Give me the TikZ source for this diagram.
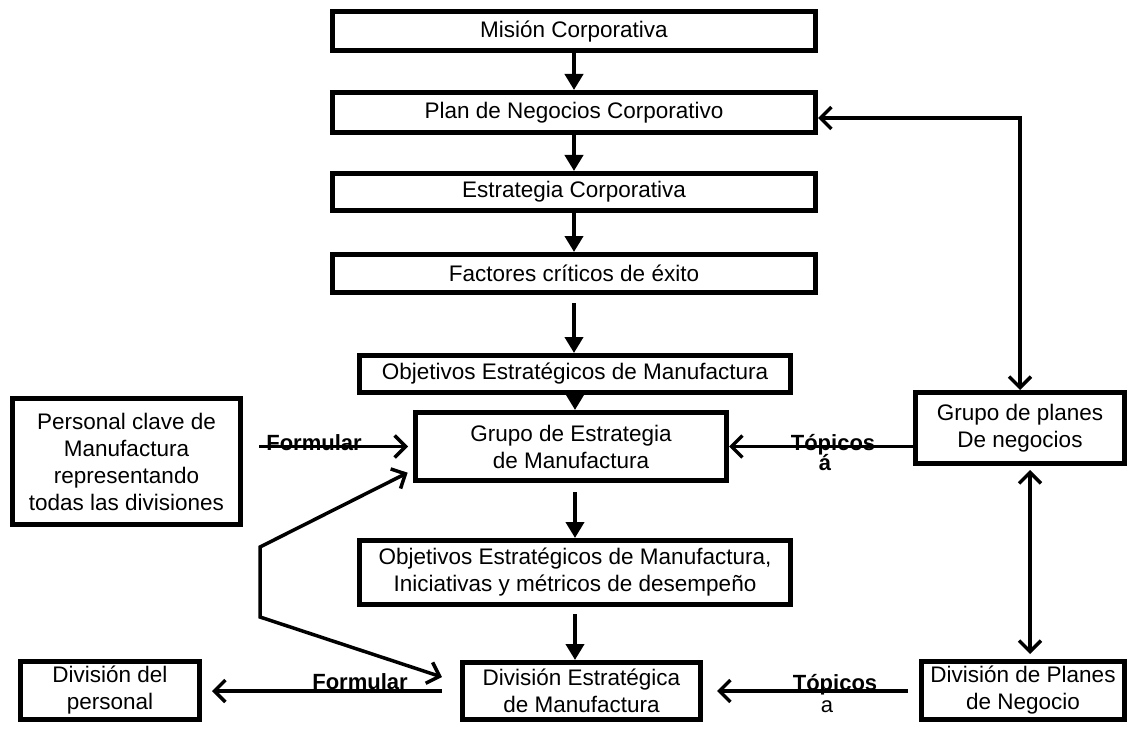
\documentclass[tikz,border=0pt]{standalone}
\usepackage{fontspec}
\setmainfont{Liberation Sans}
\usetikzlibrary{arrows.meta}
\begin{document}
\begin{tikzpicture}[x=1pt,y=-1pt,
  box/.style={draw, line width=5pt, inner sep=0pt, align=center,
    font=\fontsize{22.5}{27}\selectfont},
  lbl/.style={inner sep=0pt, anchor=base, font=\fontsize{22}{26.5}\selectfont\bfseries},
  lblplain/.style={inner sep=0pt, anchor=base, font=\fontsize{22}{26.5}\selectfont},
  down/.style={line width=4pt, -{Triangle[length=16pt,width=18pt]}},
  barb/.style={line width=3.5pt, line join=miter, -{Straight Barb[length=11pt,width=22pt]}},
  twobarb/.style={line width=3.5pt, line join=miter,
    {Straight Barb[length=11pt,width=22pt]}-{Straight Barb[length=11pt,width=22pt]}},
]
\useasboundingbox (0,0) rectangle (1138,733);

% central chain of boxes
\node[box, minimum width=483pt, minimum height=39pt] (mis)   at (574,31.5)  {Misión Corporativa};
\node[box, minimum width=483pt, minimum height=40pt] (plan)  at (574,112.5) {Plan de Negocios Corporativo};
\node[box, minimum width=483pt, minimum height=37pt] (estr)  at (574,192)   {Estrategia Corporativa};
\node[box, minimum width=483pt, minimum height=38pt] (fact)  at (574,273.5) {Factores críticos de éxito};
\node[box, minimum width=431pt, minimum height=37pt] (obj1)  at (575,374)   {Objetivos Estratégicos de Manufactura};
\node[box, minimum width=311pt, minimum height=68pt] (grupo) at (571,446.5) {Grupo de Estrategia\\de Manufactura};
\node[box, minimum width=431pt, minimum height=64pt] (obj2)  at (575,572.5) {Objetivos Estratégicos de Manufactura,\\Iniciativas y métricos de desempeño};
\node[box, minimum width=238pt, minimum height=57pt] (divest) at (581.5,691) {División Estratégica\\de Manufactura};

% side boxes
\node[box, minimum width=228pt, minimum height=126pt] (pers) at (126.5,461.5) {Personal clave de\\Manufactura\\representando\\todas las divisiones};
\node[box, minimum width=209pt, minimum height=71pt] (gpn)  at (1020,428)   {Grupo de planes\\De negocios};
\node[box, minimum width=179pt, minimum height=58pt] (divp) at (110,690.5)  {División del\\personal};
\node[box, minimum width=203pt, minimum height=58pt] (dpn)  at (1023,690.5) {División de Planes\\de Negocio};

% connector labels
\node[lbl] (f1)  at (314,450) {Formular};
\node[lbl] (t1)  at (833,450) {Tópicos};
\node[lbl] (t1a) at (825,470) {á};
\node[lbl] (f2)  at (360,689) {Formular};
\node[lbl] (t2)  at (835,690) {Tópicos};
\node[lblplain] (t2a) at (827,712) {a};

% vertical flow
\draw[down] (mis.south) -- (plan.north);
\draw[down] (plan.south) -- (estr.north);
\draw[down] (estr.south) -- (fact.north);
\draw[down, shorten <=8pt] (fact.south) -- (fact.south |- obj1.north);
\draw[down] (obj1.south) -- (obj1.south |- grupo.north);
\draw[down, shorten <=9pt] (obj2.north |- grupo.south) -- (obj2.north);
\draw[down, shorten <=7pt] (obj2.south) -- (obj2.south |- divest.north);

% horizontal connectors
\draw[barb, shorten <=16pt, shorten >=5pt] (pers.east |- grupo.west) -- (grupo.west);
\draw[barb] (gpn.west |- grupo.east) -- (grupo.east);
\draw[barb, shorten <=18pt, shorten >=10pt] (divest.west) -- (divest.west -| divp.east);
\draw[barb, shorten <=11pt, shorten >=14pt] (dpn.west |- divest.east) -- (divest.east);

% business plan loop on the right
\draw[twobarb] (gpn.north) |- ([yshift=-5.5pt]plan.east);
\draw[twobarb, shorten <=4pt, shorten >=5pt] ([xshift=10pt]gpn.south) -- ([xshift=10pt]gpn.south |- dpn.north);

% feedback path on the left
\coordinate (b1) at (260,547);
\coordinate (b2) at (260,617);
\draw[twobarb, shorten <=6pt, shorten >=19pt] ([yshift=-23.5pt]grupo.west) -- (b1) -- (b2) -- ([yshift=8pt]divest.west);
\end{tikzpicture}
\end{document}
